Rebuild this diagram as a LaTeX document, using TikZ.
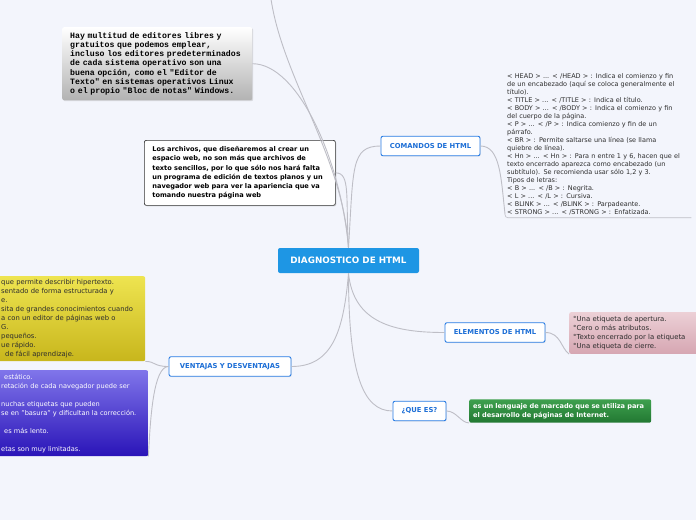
\documentclass[tikz,border=0pt]{standalone}
\usepackage{fontspec}
\setmainfont{DejaVu Sans}
\newfontfamily\monofnt{Liberation Mono}
\usetikzlibrary{shadows}
\definecolor{mmpage}{RGB}{243,245,252}
\definecolor{mmblue}{RGB}{30,150,228}
\definecolor{mmedge}{RGB}{40,124,228}
\definecolor{mmsubt}{RGB}{28,110,214}
\definecolor{mmline}{RGB}{190,190,198}
\definecolor{mmtext}{RGB}{45,45,45}
\definecolor{pinktop}{RGB}{236,208,214}
\definecolor{pinkbot}{RGB}{214,166,178}
\definecolor{grntop}{RGB}{62,160,78}
\definecolor{grnbot}{RGB}{34,120,50}
\definecolor{yeltop}{RGB}{238,228,80}
\definecolor{yelbot}{RGB}{200,182,28}
\definecolor{purtop}{RGB}{128,117,234}
\definecolor{purbot}{RGB}{42,20,184}
\newcommand{\fsz}[2]{\fontsize{#1}{#2}\selectfont}
\tikzset{
  root/.style={fill=mmblue, rounded corners=2pt, text=white,
               font=\fsz{8.8}{10}\bfseries, minimum width=141pt, minimum height=25pt},
  sub/.style={draw=mmedge, fill=white, rounded corners=2pt, text=mmsubt,
              font=\fsz{6.8}{8}\bfseries, minimum height=19.5pt, line width=0.9pt,
              drop shadow={shadow xshift=0.8pt, shadow yshift=-0.8pt, opacity=0.15}},
  leaf/.style={align=left, text=mmtext, inner sep=2pt, font=\fsz{6.5}{8.05}},
  foot/.style={mmline, line width=0.6pt, rounded corners=3pt},
  pinkbox/.style={top color=pinktop, bottom color=pinkbot, rounded corners=2pt,
                  align=left, text=mmtext, font=\fsz{6.9}{9}, inner sep=4pt},
  grnbox/.style={top color=grntop, bottom color=grnbot, rounded corners=2pt,
                 align=left, text=white, font=\fsz{6.6}{9}\bfseries, inner sep=4pt},
  ybox/.style={top color=yeltop, bottom color=yelbot, rounded corners=2pt,
               align=left, text=mmtext, font=\fsz{6.8}{9}, inner xsep=7pt, inner ysep=3pt},
  pbox/.style={top color=purtop, bottom color=purbot, rounded corners=2pt,
               align=left, text=white, font=\fsz{6.6}{9}, inner xsep=6pt, inner ysep=3pt},
  graybox/.style={top color=white, bottom color=black!30, rounded corners=2pt,
                  align=left, text=black, font=\monofnt\bfseries\fsz{8.2}{9.2},
                  inner xsep=8pt,
                  drop shadow={shadow xshift=1pt, shadow yshift=-1pt, opacity=0.25}},
  notebox/.style={draw=black!80, fill=white, rounded corners=2pt, line width=0.7pt,
                  align=left, text=black, font=\fsz{6.6}{9.2}\bfseries, inner xsep=8pt,
                  drop shadow={shadow xshift=1pt, shadow yshift=-1pt, opacity=0.25}},
  conn/.style={mmline, line width=0.9pt},
}

\begin{document}
\begin{tikzpicture}[x=1pt, y=-1pt]
  \clip (0,0) rectangle (696,520);
  \fill[mmpage] (0,0) rectangle (696,520);

  % central topic
  \node[root] (diag) at (348.5,260.5) {DIAGNOSTICO DE HTML};

  % topics
  \node[sub, minimum width=99pt] (comandos) at (430.5,146) {COMANDOS DE HTML};
  \node[sub, minimum width=100pt] (elementos) at (495,332.5) {ELEMENTOS DE HTML};
  \node[sub, minimum width=53pt] (quees) at (419.5,411) {¿QUE ES?};
  \node[sub, minimum width=122pt] (ventajas) at (230,366.5) {VENTAJAS Y DESVENTAJAS};

  % free notes
  \node[graybox, anchor=north west, minimum height=73pt, text width=174pt]
    (editores) at (62,27)
    {Hay multitud de editores libres y\\
     gratuitos que podemos emplear,\\
     incluso los editores predeterminados\\
     de cada sistema operativo son una\\
     buena opción, como el "Editor de\\
     Texto" en sistemas operativos Linux\\
     o el propio "Bloc de notas" Windows.};
  \node[notebox, anchor=north west, minimum height=65pt, text width=175pt]
    (archivos) at (144,140)
    {Los archivos, que diseñaremos al crear un\\
     espacio web, no son más que archivos de\\
     texto sencillos, por lo que sólo nos hará falta\\
     un programa de edición de textos planos y un\\
     navegador web para ver la apariencia que va\\
     tomando nuestra página web};
  \coordinate (topend) at (271,-1);

  % sub-topics
  \node[leaf, anchor=north west, text width=184pt] (cmdtxt) at (505,71)
    {< HEAD > ... < /HEAD > : Indica el comienzo y fin\\
     de un encabezado (aquí se coloca generalmente el\\
     título).\\
     < TITLE > ... < /TITLE > : Indica el título.\\
     < BODY > ... < /BODY > : Indica el comienzo y fin\\
     del cuerpo de la página.\\
     < P > ... < /P > : Indica comienzo y fin de un\\
     párrafo.\\
     < BR > : Permite saltarse una línea (se llama\\
     quiebre de línea).\\
     < Hn > ... < Hn > : Para n entre 1 y 6, hacen que el\\
     texto encerrado aparezca como encabezado (un\\
     subtítulo). Se recomienda usar sólo 1,2 y 3.\\
     Tipos de letras:\\
     < B > ... < /B > : Negrita.\\
     < L > ... < /L > : Cursiva.\\
     < BLINK > ... < /BLINK > : Parpadeante.\\
     < STRONG > ... < /STRONG > : Enfatizada.};
  \coordinate (cmdfoot) at ([yshift=4pt]cmdtxt.south west);
  \draw[foot] (cmdfoot) |- ([xshift=-2pt]cmdtxt.south east);

  \node[pinkbox, anchor=north west, text width=140pt, minimum height=40pt]
    (elemtxt) at (569,312)
    {°Una etiqueta de apertura.\\
     °Cero o más atributos.\\
     °Texto encerrado por la etiqueta\\
     °Una etiqueta de cierre.};
  \node[grnbox, anchor=west, text width=174pt, minimum height=22pt]
    (quetxt) at (469,411)
    {es un lenguaje de marcado que se utiliza para\\
     el desarrollo de páginas de Internet.};
  \node[ybox, anchor=north west, text width=137pt, minimum height=85pt]
    (ventxt) at (-6,276)
    {que permite describir hipertexto.\\
     sentado de forma estructurada y\\
     e.\\
     sita de grandes conocimientos cuando\\
     a con un editor de páginas web o\\
     G.\\
     pequeños.\\
     ue rápido.\\
     \hspace*{4pt}de fácil aprendizaje.};
  \node[pbox, anchor=north west, text width=141pt, minimum height=86pt]
    (desvtxt) at (-5,370)
    {\hspace*{3pt}estático.\\
     retación de cada navegador puede ser\\
     \mbox{}\\
     nuchas etiquetas que pueden\\
     se en "basura" y dificultan la corrección.\\
     \mbox{}\\
     \hspace*{3pt}es más lento.\\
     \mbox{}\\
     etas son muy limitadas.};

  % connectors
  \draw[conn] (diag.north) .. controls +(-5,-90) and +(12,80) .. (topend);
  \draw[conn] (diag.north) .. controls +(-8,-90) and +(45,0) .. (editores.east);
  \draw[conn] (diag.north) .. controls +(-3,-50) and +(15,0) .. (archivos.east);
  \draw[conn] (diag.north) .. controls +(5,-80) and +(-30,0) .. (comandos.west);
  \draw[conn] (comandos.east) .. controls +(20,0) and +(-4,-35) .. (cmdfoot);
  \draw[conn] (diag.south) .. controls +(5,50) and +(-50,0) .. (elementos.west);
  \draw[conn] (elementos.east) .. controls +(15,0) and +(-8,-6) .. (elemtxt.south west);
  \draw[conn] (diag.south) .. controls +(0,100) and +(-30,0) .. (quees.west);
  \draw[conn] (quees.east) .. controls +(10,0) and +(-8,0) .. (quetxt.south west);
  \draw[conn] (diag.south) .. controls +(-5,60) and +(40,0) .. (ventajas.east);
  \draw[conn] (ventajas.west) .. controls +(-15,0) and +(10,0) .. (ventxt.south east);
  \draw[conn] (ventajas.west) .. controls +(-15,0) and +(2,-40) .. (desvtxt.south east);
\end{tikzpicture}
\end{document}
